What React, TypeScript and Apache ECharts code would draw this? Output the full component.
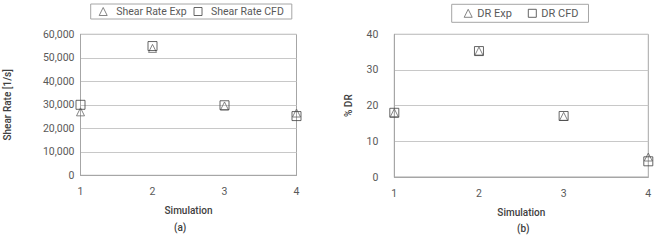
import React, { useEffect, useRef } from "react";
import * as echarts from "echarts";

const simulations = [1, 2, 3, 4];
const shearExp = [27000, 54000, 29500, 26500];
const shearCfd = [30000, 55000, 29800, 25200];
const drExp = [18.0, 35.3, 17.0, 5.6];
const drCfd = [18.0, 35.3, 17.1, 4.4];
const leftTicks = [0, 10000, 20000, 30000, 40000, 50000, 60000];
const rightTicks = [0, 10, 20, 30, 40];

const FONT = "Roboto";
const TICK = "#595959";
const LINE = "#a6a6a6";
const GRIDC = "#c8c8c8";
const MARK = "#404040";
const EXPC = "#666666";

export default function App() {
  const ref = useRef<HTMLDivElement>(null);
  useEffect(() => {
    const chart = echarts.init(ref.current!, null, { renderer: "svg" });
    const xAxisBase = (gi: number) => ({
      type: "value" as const,
      gridIndex: gi,
      min: simulations[0],
      max: simulations[simulations.length - 1],
      interval: 1,
      axisLine: { show: true, lineStyle: { color: LINE } },
      axisTick: { show: false },
      splitLine: { show: false },
      axisLabel: { color: TICK, fontFamily: FONT, fontSize: 10.5, margin: 11 },
      name: "Simulation",
      nameLocation: "middle" as const,
      nameGap: 30,
      nameTextStyle: { color: "#404040", fontFamily: FONT, fontSize: 10, fontWeight: 500 },
    });
    const sym = (color: string) => ({
      color: "rgba(255,255,255,0)",
      borderColor: color,
      borderWidth: 1,
    });
    const legendItemStyle = { color: "rgba(255,255,255,0)", borderColor: "inherit", borderWidth: 1 };
    chart.setOption({
      animation: false,
      textStyle: { fontFamily: FONT },
      grid: [
        { left: 80.5, top: 34.3, width: 216, height: 141, show: true, borderColor: LINE, borderWidth: 1, backgroundColor: "transparent" },
        { left: 394.3, top: 34.3, width: 254, height: 142.7, show: true, borderColor: LINE, borderWidth: 1, backgroundColor: "transparent" },
      ],
      legend: [
        {
          data: [
            { name: "Shear Rate Exp", icon: "triangle" },
            { name: "Shear Rate CFD", icon: "rect" },
          ],
          left: 90.7,
          top: 4,
          itemWidth: 8,
          itemHeight: 8,
          itemGap: 7,
          padding: [2, 8, 2, 8],
          borderColor: LINE,
          borderWidth: 1,
          itemStyle: legendItemStyle,
          textStyle: { color: TICK, fontSize: 10.5, fontFamily: FONT, padding: [0, 0, 0, 4] },
        },
        {
          data: [
            { name: "DR Exp", icon: "triangle" },
            { name: "DR CFD", icon: "rect" },
          ],
          left: 451.7,
          top: 4.3,
          itemWidth: 8,
          itemHeight: 8,
          itemGap: 16,
          padding: [3.5, 10, 3.5, 12],
          borderColor: LINE,
          borderWidth: 1,
          itemStyle: legendItemStyle,
          textStyle: { color: TICK, fontSize: 11, fontFamily: FONT },
        },
      ],
      xAxis: [xAxisBase(0), xAxisBase(1)],
      yAxis: [
        {
          type: "value",
          gridIndex: 0,
          min: leftTicks[0],
          max: leftTicks[leftTicks.length - 1],
          interval: leftTicks[1] - leftTicks[0],
          axisLine: { show: true, lineStyle: { color: LINE } },
          axisTick: { show: false },
          splitLine: { show: true, lineStyle: { color: GRIDC } },
          axisLabel: {
            color: TICK,
            fontFamily: FONT,
            fontSize: 10.5,
            margin: 6,
            formatter: (v: number) => v.toLocaleString("en-US"),
          },
          name: "Shear Rate [1/s]",
          nameLocation: "middle",
          nameGap: 68,
          nameTextStyle: { color: "#404040", fontFamily: FONT, fontSize: 10, fontWeight: 500 },
        },
        {
          type: "value",
          gridIndex: 1,
          min: rightTicks[0],
          max: rightTicks[rightTicks.length - 1],
          interval: rightTicks[1] - rightTicks[0],
          axisLine: { show: true, lineStyle: { color: LINE } },
          axisTick: { show: false },
          splitLine: { show: true, lineStyle: { color: GRIDC } },
          axisLabel: { color: TICK, fontFamily: FONT, fontSize: 10.5, margin: 16 },
          name: "% DR",
          nameLocation: "middle",
          nameGap: 41,
          nameTextStyle: { color: "#404040", fontFamily: FONT, fontSize: 10, fontWeight: 500 },
        },
      ],
      series: [
        {
          name: "Shear Rate Exp",
          type: "scatter",
          xAxisIndex: 0,
          yAxisIndex: 0,
          symbol: "triangle",
          symbolSize: 8,
          itemStyle: sym(EXPC),
          data: simulations.map((s, i) => [s, shearExp[i]]),
        },
        {
          name: "Shear Rate CFD",
          type: "scatter",
          xAxisIndex: 0,
          yAxisIndex: 0,
          symbol: "rect",
          symbolSize: 9,
          itemStyle: sym(MARK),
          data: simulations.map((s, i) => [s, shearCfd[i]]),
        },
        {
          name: "DR Exp",
          type: "scatter",
          xAxisIndex: 1,
          yAxisIndex: 1,
          symbol: "triangle",
          symbolSize: 8,
          itemStyle: sym(EXPC),
          data: simulations.map((s, i) => [s, drExp[i]]),
        },
        {
          name: "DR CFD",
          type: "scatter",
          xAxisIndex: 1,
          yAxisIndex: 1,
          symbol: "rect",
          symbolSize: 9,
          itemStyle: sym(MARK),
          data: simulations.map((s, i) => [s, drCfd[i]]),
        },
      ],
      graphic: [
        {
          type: "text",
          left: 174,
          top: 222,
          style: { text: "(a)", fill: "#404040", font: `500 10px ${FONT}` },
        },
        {
          type: "text",
          left: 517,
          top: 223,
          style: { text: "(b)", fill: "#404040", font: `500 10px ${FONT}` },
        },
      ],
    });
    return () => chart.dispose();
  }, []);
  return (
    <div
      ref={ref}
      style={{ position: "fixed", left: 0, top: 0, width: 655, height: 240, background: "#fff" }}
    />
  );
}
